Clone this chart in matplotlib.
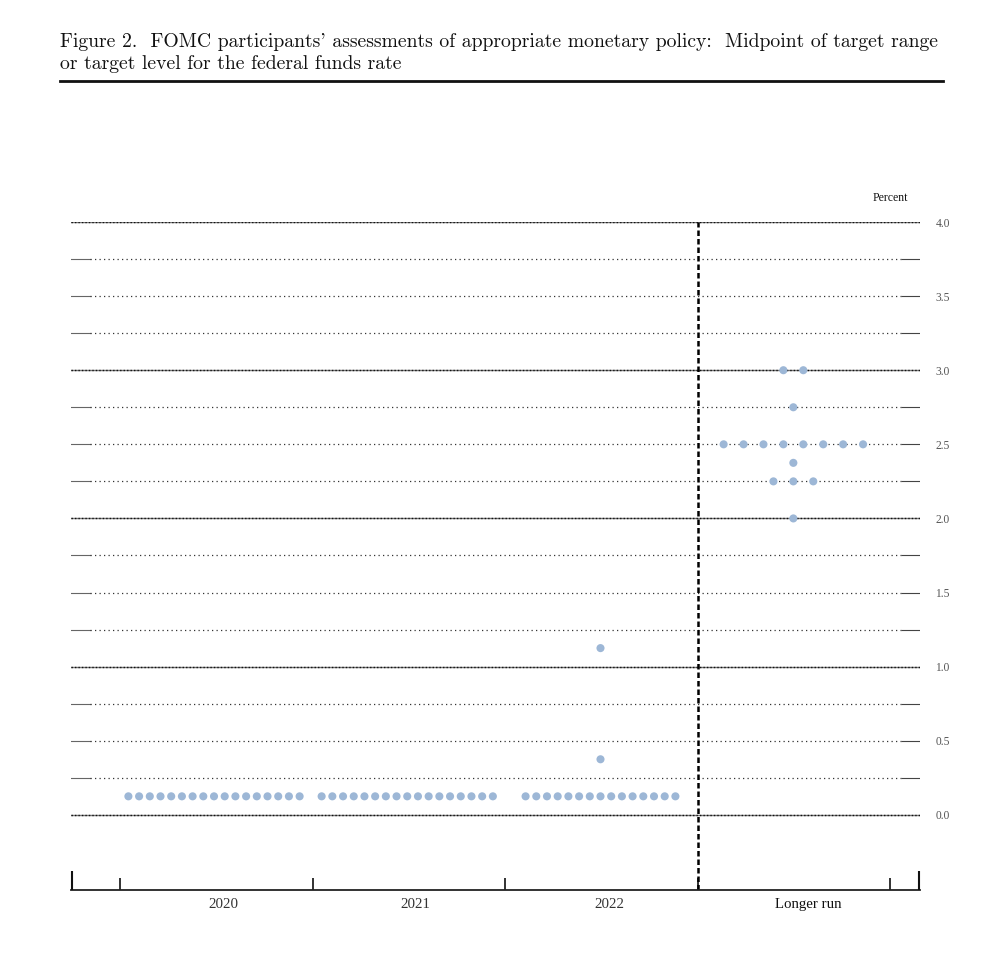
import matplotlib
matplotlib.use("Agg")
import matplotlib.pyplot as plt
import numpy as np

# ---- data ----
columns = ["2020", "2021", "2022", "Longer run"]
levels_2020 = [0.125]
counts_2020 = [17]
levels_2021 = [0.125]
counts_2021 = [17]
levels_2022 = [0.125, 0.375, 1.125]
counts_2022 = [15, 1, 1]
levels_lr = [2.0, 2.25, 2.375, 2.5, 2.75, 3.0]
counts_lr = [1, 3, 1, 8, 1, 2]
ytick_values = [0.0, 0.5, 1.0, 1.5, 2.0, 2.5, 3.0, 3.5, 4.0]
grid_levels = [0.25 * i for i in range(17)]

title = ("Figure 2.  FOMC participants' assessments of appropriate monetary policy:  Midpoint of target range\n"
         "or target level for the federal funds rate")

W, H = 1000, 960
fig = plt.figure(figsize=(W / 100, H / 100), dpi=100)

# axes placement (pixels)
L, R, B, T = 71, 920, 890, 222
ax = fig.add_axes([L / W, 1 - B / H, (R - L) / W, (B - T) / H])
x0, x1 = -0.755, 3.656
y0, y1 = -0.507, 4.0
ax.set_xlim(x0, x1)
ax.set_ylim(y0, y1)

for s in ["top", "left", "right"]:
    ax.spines[s].set_visible(False)
ax.spines["bottom"].set_linewidth(1.3)
ax.spines["bottom"].set_color("#222222")

# horizontal grid
fl = (90 - L) / (R - L)
fr = (902 - L) / (R - L)
for lv in grid_levels:
    if abs(lv - round(lv)) < 1e-9:
        ax.axhline(lv, color="#777777", lw=1.0, zorder=1)
        ax.axhline(lv, color="#111111", lw=1.0, ls=(0, (1, 1.5)), zorder=1)
    else:
        ax.axhline(lv, xmin=0, xmax=fl, color="#666666", lw=0.8, zorder=1)
        ax.axhline(lv, xmin=fl, xmax=fr, color="#333333", lw=0.9, ls=(0, (1, 2.6)), zorder=1)
        ax.axhline(lv, xmin=fr, xmax=1, color="#444444", lw=0.8, zorder=1)

# vertical dashed separator
ax.plot([2.5, 2.5], [y0, y1], color="black", lw=1.8, ls=(0, (2.2, 1.2)), zorder=2)

# dots
dot_color = "#9db7d6"
def draw(col, levels, counts, spacing):
    for lv, n in zip(levels, counts):
        xs = col + (np.arange(n) - (n - 1) / 2) * spacing
        ax.scatter(xs, [lv] * n, s=34, color=dot_color, edgecolors="none", zorder=3)

draw(0 - 0.012, levels_2020, counts_2020, 0.0556)
draw(1 - 0.008, levels_2021, counts_2021, 0.0556)
draw(2 - 0.004, levels_2022, counts_2022, 0.0556)
draw(3 - 0.002, levels_lr, counts_lr, 0.1035)

# y ticks on right
ax.yaxis.tick_right()
ax.set_yticks(ytick_values)
ax.set_yticklabels([f"{v:.1f}" for v in ytick_values], family="Liberation Serif",
                   fontsize=8.3, color="#555555")
ax.tick_params(axis="y", length=0, pad=11)

# x labels (slightly right of column centres, as in the original)
label_offsets = [0.039, 0.036, 0.042, 0.073]
ax.set_xticks([i + o for i, o in enumerate(label_offsets)])
ax.set_xticklabels(columns, family="Liberation Serif", fontsize=10.7)
for i, lab in enumerate(ax.get_xticklabels()):
    lab.set_color("#111111" if i == 3 else "#333333")
ax.tick_params(axis="x", which="major", length=0, pad=6)
ax.set_xticks([-0.5, 0.5, 1.5, 2.5, 3.5], minor=True)
ax.tick_params(axis="x", which="minor", direction="in", length=8.6, width=1.3, color="#222222")
# end ticks
ax.vlines([x0 + 0.003, x1 - 0.003], y0, y0 + 19 / 148.25, color="#111111", lw=1.5,
          clip_on=False, zorder=4)

# Percent label
fig.text(890 / W, 1 - 198 / H, "Percent", family="Liberation Serif", fontsize=8.5,
         ha="center", va="center", color="#111111")

# title
fig.text(60 / W, 1 - 33 / H, title, family=["cmr10", "DejaVu Serif"], fontsize=14.2,
         ha="left", va="top", linespacing=1.32, color="#111111")
fig.add_artist(plt.Line2D([60 / W, 943 / W], [1 - 81 / H, 1 - 81 / H], color="#111111", lw=2.0))

fig.savefig("out.png", dpi=100)
